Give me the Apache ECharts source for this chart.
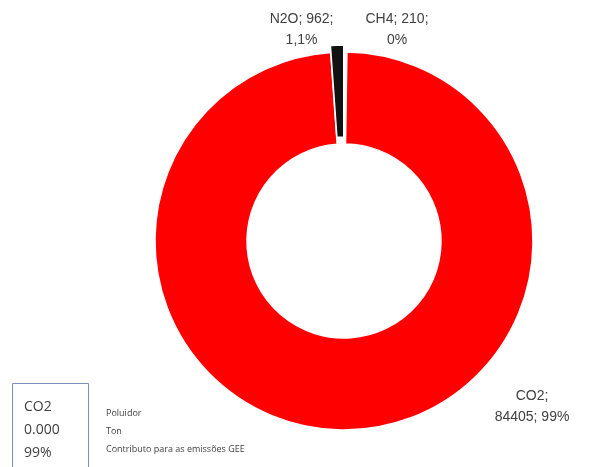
<!DOCTYPE html>
<html>
<head>
<meta charset="utf-8">
<script src="https://cdn.jsdelivr.net/npm/echarts@6/dist/echarts.min.js"></script>
<style>
  html, body { margin: 0; padding: 0; background: #ffffff; }
  #chart { width: 595px; height: 467px; }
</style>
</head>
<body>
<div id="chart"></div>
<script>
// Greenhouse-gas emissions by pollutant (ton)
const pollutants = ['CH4', 'CO2', 'N2O'];
const tons = [210, 84405, 962];
const pctDecimals = [0, 0, 1];
const sliceColors = ['#ffffff', '#ff0000', '#111111'];

const total = tons.reduce((a, b) => a + b, 0);

function fmtPct(v, d) {
  return (v / total * 100).toFixed(d).replace('.', ',') + '%';
}

// label anchor points per slice (CH4, CO2, N2O)
const labelSpots = [
  { x: 397, y: 30 },
  { x: 532, y: 407 },
  { x: 271, y: 30 }
];
const labelText = [
  (i) => pollutants[i] + '; ' + tons[i] + ';\n' + fmtPct(tons[i], pctDecimals[i]),
  (i) => pollutants[i] + ';\n' + tons[i] + '; ' + fmtPct(tons[i], pctDecimals[i]),
  (i) => pollutants[i] + '; ' + tons[i] + ';\n' + fmtPct(tons[i], pctDecimals[i])
];

const chart = echarts.init(document.getElementById('chart'), null, { renderer: 'canvas' });

chart.setOption({
  backgroundColor: '#ffffff',
  animation: false,
  series: [{
    type: 'pie',
    center: [344, 241],
    radius: [97, 189],
    startAngle: 90,
    clockwise: true,
    selectedMode: 'multiple',
    selectedOffset: 7,
    avoidLabelOverlap: false,
    itemStyle: { borderColor: '#ffffff', borderWidth: 1.5 },
    emphasis: { disabled: true },
    label: {
      show: true,
      fontFamily: 'Liberation Sans, Arial, sans-serif',
      fontSize: 14,
      color: '#404040',
      lineHeight: 21,
      align: 'center',
      formatter: (p) => labelText[p.dataIndex](p.dataIndex)
    },
    labelLine: { show: false },
    labelLayout: (p) => ({
      x: labelSpots[p.dataIndex].x,
      y: labelSpots[p.dataIndex].y,
      align: 'center',
      verticalAlign: 'middle'
    }),
    data: pollutants.map((name, i) => ({
      name: name,
      value: tons[i],
      selected: name === 'N2O',
      itemStyle: { color: sliceColors[i] },
      select: { itemStyle: { color: sliceColors[i] } }
    }))
  }],
  graphic: [
    {
      type: 'rect',
      shape: { x: 12.5, y: 383.5, width: 76, height: 100 },
      style: { fill: 'none', stroke: '#7f8fb5', lineWidth: 1 }
    },
    {
      type: 'text', left: 24, top: 396,
      style: { text: 'CO2\n0.000\n99%', font: '14px "Open Sans", sans-serif', fill: '#404040', lineHeight: 23 }
    },
    {
      type: 'text', left: 106, top: 404,
      style: { text: 'Poluidor\nTon\nContributo para as emissões GEE', font: '9px "Open Sans", sans-serif', fill: '#404040', lineHeight: 18 }
    }
  ]
});
</script>
</body>
</html>
